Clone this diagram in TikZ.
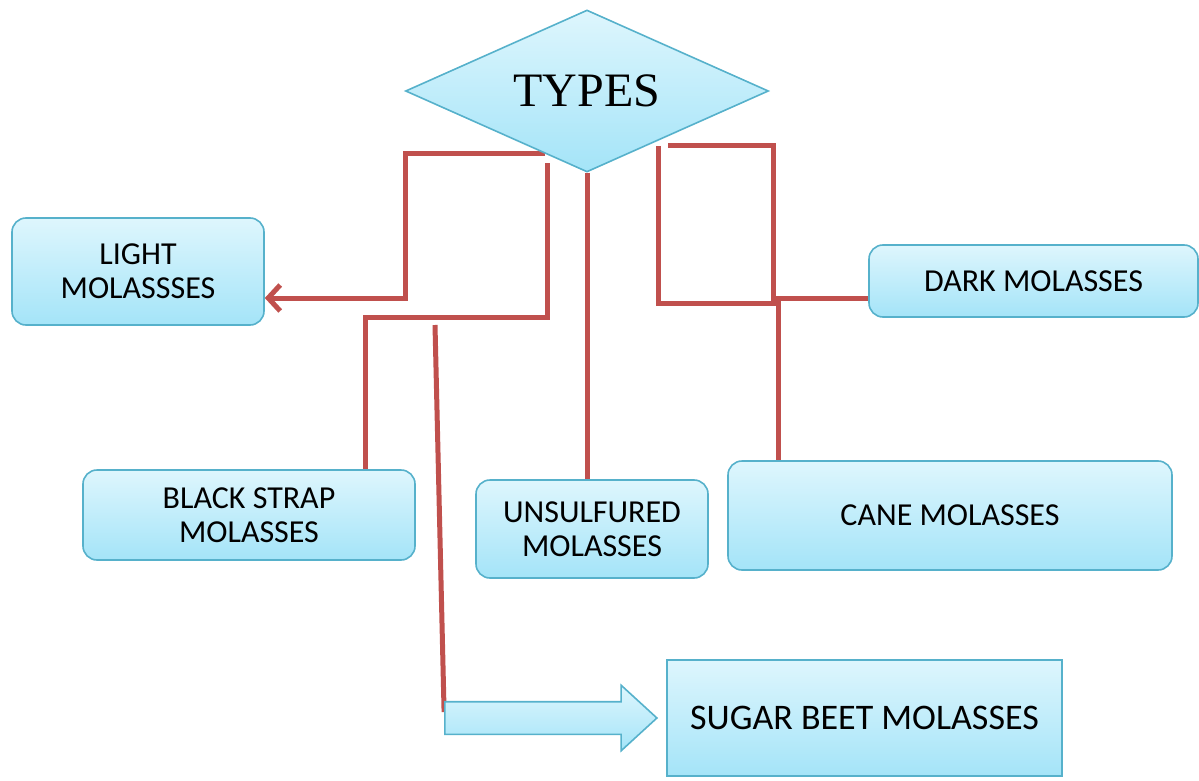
\documentclass[tikz,border=0pt]{standalone}
\usepackage{fontspec}
\setmainfont{Carlito}
\newfontfamily\typesfont{Liberation Serif}
\usetikzlibrary{shapes.geometric,shapes.arrows,arrows.meta,calc}
\definecolor{boxtop}{HTML}{DEF6FD}
\definecolor{boxbot}{HTML}{A4E4F8}
\definecolor{boxline}{HTML}{56B1CB}
\definecolor{linkred}{HTML}{C0504D}
\pgfdeclarelayer{bg}
\pgfsetlayers{bg,main}
\tikzset{
  molbox/.style={draw=boxline,line width=0.8pt,top color=boxtop,bottom color=boxbot,
    rounded corners=7pt,align=center,inner sep=2pt,
    font=\fontsize{16}{17}\selectfont},
  link/.style={draw=linkred,line width=2.5pt}
}
\begin{document}
\begin{tikzpicture}[x=0.5pt,y=-0.5pt]
            \useasboundingbox (0,0) rectangle (1199,781);
            \node[diamond,aspect=2.24,draw=boxline,line width=0.8pt,top color=boxtop,bottom color=boxbot,
                  minimum width=181.5pt,minimum height=81pt,inner sep=0pt,
                  font=\typesfont\fontsize{24}{26}\selectfont] (types) at (587,91) {\raisebox{-1.5pt}{TYPES}};
            \node[molbox,minimum width=126pt,minimum height=53.5pt] (light) at (138,271.5) {LIGHT\\MOLASSSES};
            \node[molbox,minimum width=166pt,minimum height=45pt] (black) at (249,515) {BLACK STRAP\\MOLASSES};
            \node[molbox,minimum width=116pt,minimum height=49pt] (unsulf) at (592,529) {UNSULFURED\\MOLASSES};
            \node[molbox,minimum width=222pt,minimum height=54.5pt] (cane) at (950,515.5) {CANE MOLASSES};
            \node[molbox,minimum width=164.5pt,minimum height=36pt] (dark) at (1033.5,281) {DARK MOLASSES};
            \node[molbox,sharp corners,minimum width=197.5pt,minimum height=58pt,
                  font=\fontsize{18}{20}\selectfont] (beet) at (864.5,718) {SUGAR BEET MOLASSES};
            \node[single arrow,draw=boxline,line width=0.8pt,top color=boxtop,bottom color=boxbot,
                  inner xsep=0pt,inner ysep=7.75pt,minimum height=106pt,
                  single arrow head extend=8.25pt,single arrow tip angle=85] (beetarrow) at (542,718) {};
            % red connectors, behind the shapes
            \coordinate (bstart) at (547,163);
            \coordinate (cstart) at (658,146);
            \coordinate (dstart) at (668,146);
            \coordinate (sbstart) at (435,325);
            \begin{pgfonlayer}{bg}
            \draw[link,-{Straight Barb[length=6pt,width=13pt]}] ($(types.west)!0.77!(types.south)$) -| (405,298) -- ([yshift=-13.25pt]light.east);
            \draw[link] (bstart) |- (365,317) -- ([xshift=58pt]black.north);
            \draw[link] (types.south) -- (types.south |- unsulf.north);
            \draw[link] (cstart) |- (778,303) -- ([xshift=-86pt]cane.north);
            \draw[link] (dstart) -| (773,298) -- ([yshift=-8.5pt]dark.west);
            \draw[link] (sbstart) -- ([yshift=3pt]beetarrow.west);
            \end{pgfonlayer}
        \end{tikzpicture}
\end{document}
